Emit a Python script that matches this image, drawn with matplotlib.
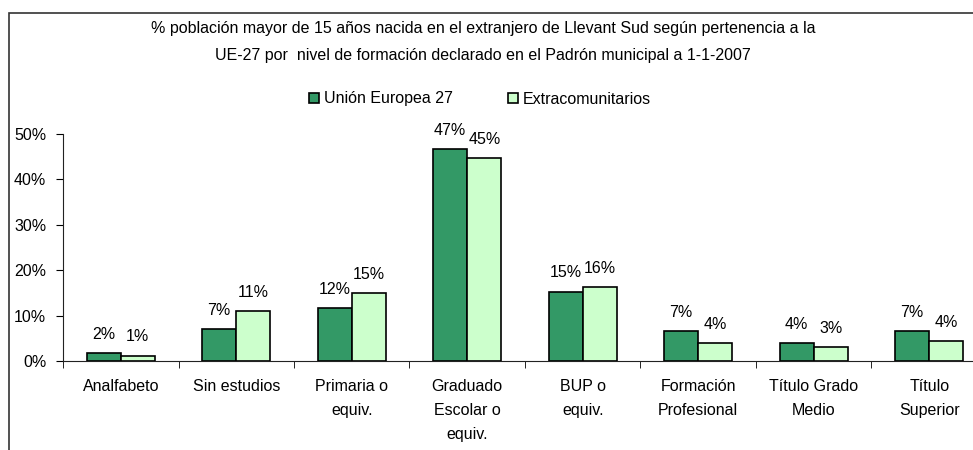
import numpy as np
import matplotlib.pyplot as plt
from matplotlib.patches import Rectangle

plt.rcParams['font.family'] = ['Liberation Sans', 'DejaVu Sans']
plt.rcParams['font.size'] = 11.5

# niveles de formación y porcentajes por grupo
niveles = ['Analfabeto', 'Sin estudios', 'Primaria o\nequiv.', 'Graduado\nEscolar o\nequiv.',
           'BUP o\nequiv.', 'Formación\nProfesional', 'Título Grado\nMedio', 'Título\nSuperior']
ue27 = [0.017, 0.070, 0.116, 0.466, 0.153, 0.066, 0.039, 0.066]
extracom = [0.012, 0.110, 0.150, 0.447, 0.162, 0.039, 0.030, 0.044]
series = ['Unión Europea 27', 'Extracomunitarios']
colores = ['#339966', '#CCFFCC']

titulo = ('% población mayor de 15 años nacida en el extranjero de Llevant Sud según pertenencia a la\n'
          'UE-27 por  nivel de formación declarado en el Padrón municipal a 1-1-2007')

fig = plt.figure(figsize=(9.73, 4.5), dpi=100)
ax = fig.add_axes([63 / 973, 1 - 361 / 450, 924 / 973, 227 / 450])

x = np.arange(len(niveles))
w = 0.295
b1 = ax.bar(x - w / 2, ue27, w, color=colores[0], edgecolor='black', linewidth=1.2, label=series[0])
b2 = ax.bar(x + w / 2, extracom, w, color=colores[1], edgecolor='black', linewidth=1.2, label=series[1])

for barras, vals in ((b1, ue27), (b2, extracom)):
    for r, v in zip(barras, vals):
        ax.annotate(f'{round(v * 100)}%', (r.get_x() + r.get_width() / 2, v),
                    xytext=(0, 8), textcoords='offset points', ha='center', va='bottom')

ax.set_ylim(0, 0.5)
ax.set_xlim(-0.5, len(niveles) - 0.5)
ax.set_yticks(np.arange(0, 0.51, 0.1))
ax.set_yticklabels([f'{int(round(t * 100))}%' for t in np.arange(0, 0.51, 0.1)])
ax.set_xticks(x)
ax.set_xticklabels(niveles, linespacing=1.75, va='top')
ax.set_xticks(np.arange(-0.5, len(niveles), 1), minor=True)
ax.tick_params(axis='x', which='major', length=0, pad=13)
ax.tick_params(axis='x', which='minor', length=5, direction='out')
ax.tick_params(axis='y', length=5, direction='out', pad=7)
for s in ('top', 'right'):
    ax.spines[s].set_visible(False)
for s in ('left', 'bottom'):
    ax.spines[s].set_color('#222222')

fig.text(483 / 973, 1 - 42 / 450, titulo, ha='center', va='center', linespacing=1.95)

fig.legend(handles=[b1, b2], labels=series, loc='center', bbox_to_anchor=(480 / 973, 1 - 99 / 450),
           ncol=2, frameon=False, handlelength=0.6, handleheight=0.6, handletextpad=0.3,
           columnspacing=3.5)

# marco exterior del gráfico
fig.patches.append(Rectangle((9 / 973, -0.1), 1.1, 1 - 13 / 450 + 0.1, transform=fig.transFigure,
                             fill=False, edgecolor='#333333', linewidth=1.2, clip_on=False))

fig.savefig('out.png', dpi=100)
